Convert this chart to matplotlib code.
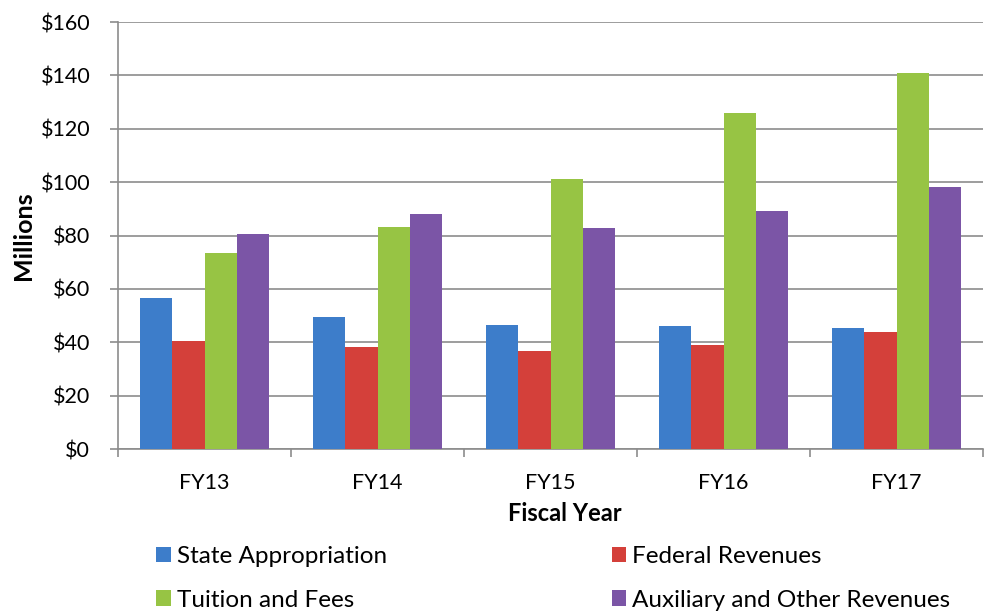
import matplotlib
matplotlib.use("Agg")
import matplotlib.pyplot as plt
import numpy as np
from matplotlib.ticker import FuncFormatter

plt.rcParams['font.family'] = ['Lato', 'DejaVu Sans']

years = ["FY13", "FY14", "FY15", "FY16", "FY17"]
state = [56.5, 49.5, 46.3, 46.0, 45.5]
federal = [40.3, 38.2, 36.7, 39.0, 43.8]
tuition = [73.5, 83.1, 101.1, 125.8, 140.9]
auxiliary = [80.6, 88.0, 82.8, 89.2, 98.1]
series_names = ["State Appropriation", "Federal Revenues", "Tuition and Fees",
                "Auxiliary and Other Revenues"]
colors = ["#3D7DCA", "#D4403A", "#97C444", "#7B55A6"]

fig = plt.figure(figsize=(9.95, 6.12), dpi=100)
ax = fig.add_axes([0.1186, 0.2663, 0.8694, 0.6977])

x = np.arange(len(years))
w = 0.187
data = [state, federal, tuition, auxiliary]
handles = []
for i, (vals, c, name) in enumerate(zip(data, colors, series_names)):
    b = ax.bar(x + (i - 1.5) * w, vals, width=w, color=c, label=name, zorder=3)
    handles.append(b)

ax.set_xlim(-0.5, 4.5)
ax.set_ylim(0, 160)
ax.set_yticks(np.arange(0, 161, 20))
ax.yaxis.set_major_formatter(FuncFormatter(lambda v, p: f"${int(v)}"))
ax.grid(axis='y', color='#8C8C8C', linewidth=1.2, zorder=0)
ax.set_axisbelow(True)
for s in ['top', 'right']:
    ax.spines[s].set_visible(False)
for s in ['left', 'bottom']:
    ax.spines[s].set_color('#8C8C8C')
    ax.spines[s].set_linewidth(1.2)

ax.set_xticks(x)
ax.set_xticklabels(years)
ax.set_xticks(np.arange(-0.5, 5.0, 1.0), minor=True)
ax.tick_params(axis='x', which='major', length=0, pad=17, labelsize=15.5)
ax.tick_params(axis='x', which='minor', length=6, color='#8C8C8C', width=1.2)
ax.tick_params(axis='y', length=6, color='#8C8C8C', width=1.2, labelsize=15.5, pad=14)

ax.set_xlabel("Fiscal Year", fontsize=17, fontweight='bold')
ax.xaxis.set_label_coords(0.516, -0.124)
ax.set_ylabel("Millions", fontsize=18, fontweight='bold', labelpad=4)

order = [0, 2, 1, 3]
fig.legend(handles=[handles[i] for i in order],
           labels=[series_names[i] for i in order],
           loc='upper left', bbox_to_anchor=(0.157, 0.108), ncol=2,
           frameon=False, fontsize=17.5, borderpad=0, borderaxespad=0,
           handlelength=0.6, handleheight=0.6, handletextpad=0.25,
           columnspacing=9.25, labelspacing=0.93)

fig.savefig("out.png", dpi=100)
